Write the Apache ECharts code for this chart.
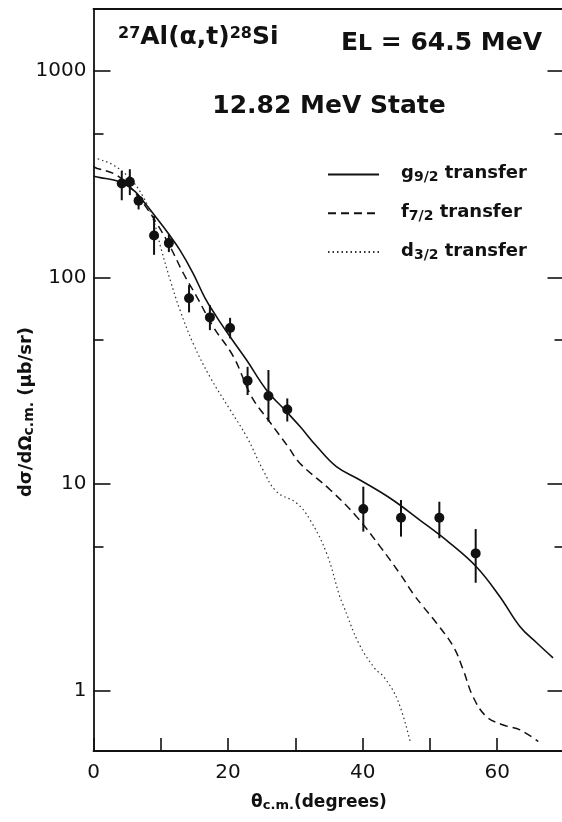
<!DOCTYPE html>
<html><head><meta charset="utf-8">
<script src="https://cdn.jsdelivr.net/npm/echarts@6/dist/echarts.min.js"></script>
<style>html,body{margin:0;padding:0;background:#fff}#c{width:562px;height:822px}</style>
</head><body><div id="c"></div>
<script>
// ---- data ----
const angles  = [4.2, 5.4, 6.7, 9.0, 11.2, 14.2, 17.3, 20.3, 22.9, 26.0, 28.8, 40.1, 45.7, 51.4, 56.8];
const sigma   = [286, 291, 236, 160, 147, 79.4, 64.2, 57, 31.7, 26.7, 23.0, 7.58, 6.88, 6.88, 4.62];
const errLow  = [237, 251, 214, 129, 133, 67.9, 55.7, 50.8, 27.0, 20.1, 20.1, 5.89, 5.57, 5.47, 3.33];
const errHigh = [329, 335, 246, 199, 162, 92, 73.7, 63.9, 37.0, 35.7, 26.0, 9.72, 8.38, 8.22, 6.06];

const g92Angle = [0, 1, 3, 4.4, 6.2, 7.65, 9.4, 11.1, 12.85, 14.8, 16.6, 18.3, 20.3, 22.75, 25.7, 28.7, 30.7, 33.2, 36.1, 39.6, 44.1, 48.5, 53.0, 56.9, 60.4, 63.4, 65.9, 68.3];
const g92Value = [310, 305, 297, 286, 261, 229, 194, 164, 136, 105, 79.4, 64.6, 51.7, 39.9, 28.6, 22.4, 19.0, 15.2, 12.15, 10.47, 8.54, 6.70, 5.17, 3.98, 2.85, 2.04, 1.70, 1.44];

const f72Angle = [0, 0.56, 2.94, 4.93, 7.4, 9.4, 11.4, 13.35, 15.35, 17.8, 20.8, 23.5, 26.2, 28.9, 30.7, 35.2, 39.1, 42.6, 45.5, 47.5, 49.0, 51.0, 53.5, 54.95, 56.4, 58.4, 60.9, 63.4, 66.1];
const f72Value = [345, 338, 320, 286, 229, 183, 141, 105, 80.8, 57.8, 41.4, 26.5, 20.0, 15.2, 12.6, 9.37, 6.96, 4.98, 3.70, 2.95, 2.55, 2.12, 1.63, 1.26, 0.935, 0.748, 0.682, 0.645, 0.567];

const d32Angle = [0, 0.48, 2.94, 5.42, 7.4, 8.9, 10.1, 11.4, 12.85, 14.8, 17.3, 20.3, 22.75, 25.2, 27.2, 30.2, 32.2, 34.65, 36.6, 37.0, 39.4, 41.8, 43.1, 45.2, 47.1];
const d32Value = [385, 378, 351, 302, 246, 190, 136, 97.3, 69.7, 48.1, 33.1, 22.9, 17.0, 11.7, 9.2, 8.08, 6.70, 4.62, 2.85, 2.65, 1.70, 1.28, 1.17, 0.90, 0.56];

const xTickLabels = [0, 20, 40, 60];
const yMajorTicks = [1, 10, 100, 1000];
const yMinorTicks = [5, 50, 500];
const seriesNames = ['g9/2 transfer', 'f7/2 transfer', 'd3/2 transfer'];

// ---- chart ----
const FONT = 'DejaVu Sans';
const INK = '#111';
const zip = (a, b) => a.map((v, i) => [v, b[i]]);

const gridRect = { left: 93.5, width: 471, top: 9, bottom: 71, outerBoundsMode: 'none', containLabel: false };
const logY = { type: 'log', logBase: 10, min: 0.51, max: 2000 };

const chart = echarts.init(document.getElementById('c'), null, { renderer: 'canvas' });

const legendRich = {
  n:  { fontFamily: FONT, fontWeight: 'bold', fontSize: 18, color: INK, lineHeight: 20, verticalAlign: 'top' },
  n0: { fontFamily: FONT, fontWeight: 'bold', fontSize: 18, color: INK, lineHeight: 20, verticalAlign: 'top', padding: [0, 0, 0, 17] },
  s:  { fontFamily: FONT, fontWeight: 'bold', fontSize: 14, color: INK, lineHeight: 14, verticalAlign: 'bottom' }
};

chart.setOption({
  animation: false,
  backgroundColor: '#fff',
  grid: [
    Object.assign({}, gridRect),
    Object.assign({}, gridRect)
  ],
  xAxis: [
    { gridIndex: 0, type: 'value', min: 0, max: 70, interval: 10, position: 'bottom',
      axisLine: { show: true, lineStyle: { color: INK, width: 1.8 } },
      axisTick: { show: true, inside: true, length: 13, lineStyle: { color: INK, width: 1.6 } },
      axisLabel: { customValues: xTickLabels, margin: 12, fontFamily: FONT, fontSize: 20, color: INK },
      splitLine: { show: false } },
    { gridIndex: 1, type: 'value', min: 0, max: 70, position: 'top',
      axisLine: { show: true, lineStyle: { color: INK, width: 1.8 } },
      axisTick: { show: false }, axisLabel: { show: false }, splitLine: { show: false } }
  ],
  yAxis: [
    Object.assign({ gridIndex: 0, position: 'left',
      axisLine: { show: true, lineStyle: { color: INK, width: 1.8 } },
      axisTick: { show: true, inside: true, length: 17, customValues: yMajorTicks, lineStyle: { color: INK, width: 1.6 } },
      axisLabel: { customValues: yMajorTicks, margin: 7, fontFamily: FONT, fontSize: 20, color: INK,
        formatter: function (v) { return String(Math.round(v)); } },
      splitLine: { show: false }, minorTick: { show: false } }, logY),
    Object.assign({ gridIndex: 0, position: 'right',
      axisLine: { show: true, lineStyle: { color: INK, width: 1.8 } },
      axisTick: { show: true, inside: true, length: 17, customValues: yMajorTicks, lineStyle: { color: INK, width: 1.6 } },
      axisLabel: { show: false }, splitLine: { show: false } }, logY),
    Object.assign({ gridIndex: 1, position: 'left',
      axisLine: { show: false },
      axisTick: { show: true, inside: true, length: 10, customValues: yMinorTicks, lineStyle: { color: INK, width: 1.6 } },
      axisLabel: { show: false }, splitLine: { show: false } }, logY),
    Object.assign({ gridIndex: 1, position: 'right',
      axisLine: { show: false },
      axisTick: { show: true, inside: true, length: 10, customValues: yMinorTicks, lineStyle: { color: INK, width: 1.6 } },
      axisLabel: { show: false }, splitLine: { show: false } }, logY)
  ],
  legend: {
    orient: 'vertical', left: 327, top: 164, padding: 0,
    itemWidth: 51, itemHeight: 26, itemGap: 18,
    selectedMode: false,
    itemStyle: { color: 'rgba(0,0,0,0)', borderWidth: 0 },
    data: seriesNames,
    formatter: function (name) {
      const parts = name.split(' ');
      const head = parts[0];
      return '{n0|' + head.charAt(0) + '}{s|' + head.slice(1) + '}{n| ' + parts.slice(1).join(' ') + '}';
    },
    textStyle: { rich: legendRich, fontFamily: FONT, fontSize: 18, color: INK }
  },
  graphic: [
    { type: 'text', x: 118, y: 26, z: 10,
      style: { text: '{sup|27}{n|Al(α,t)}{sup|28}{n|Si}', fill: INK,
        textAlign: 'left', textVerticalAlign: 'top', align: 'left', verticalAlign: 'top',
        rich: {
          n:   { fontFamily: FONT, fontWeight: 'bold', fontSize: 25, lineHeight: 24, verticalAlign: 'bottom', fill: INK },
          sup: { fontFamily: FONT, fontWeight: 'bold', fontSize: 16, lineHeight: 22, verticalAlign: 'top', fill: INK }
        } } },
    { type: 'text', x: 542, y: 31, z: 10,
      style: { text: '{n|E}{sub|L}{n| = 64.5 MeV}', fill: INK,
        textAlign: 'right', textVerticalAlign: 'top', align: 'right', verticalAlign: 'top',
        rich: {
          n:   { fontFamily: FONT, fontWeight: 'bold', fontSize: 25, lineHeight: 24, verticalAlign: 'top', fill: INK },
          sub: { fontFamily: FONT, fontWeight: 'bold', fontSize: 22, lineHeight: 22, verticalAlign: 'bottom', fill: INK },
          pad: { lineHeight: 33 }
        } } },
    { type: 'text', x: 329, y: 106, z: 10,
      style: { text: '12.82 MeV State', fill: INK, fontFamily: FONT, fontWeight: 'bold', fontSize: 25,
        textAlign: 'center', textVerticalAlign: 'middle', align: 'center', verticalAlign: 'middle' } },
    { type: 'text', x: 319, y: 803, z: 10,
      style: { text: '{n|θ}{s|c.m.}{n|(degrees)}', fill: INK,
        textAlign: 'center', textVerticalAlign: 'middle', align: 'center', verticalAlign: 'middle',
        rich: {
          n: { fontFamily: FONT, fontWeight: 'bold', fontSize: 17, lineHeight: 18, verticalAlign: 'top', fill: INK },
          s: { fontFamily: FONT, fontWeight: 'bold', fontSize: 13, lineHeight: 13, verticalAlign: 'bottom', fill: INK }
        } } },
    { type: 'text', x: 27, y: 412, rotation: Math.PI / 2, z: 10,
      style: { text: '{n|dσ/dΩ}{s|c.m.}{n| (μb/sr)}', fill: INK,
        textAlign: 'center', textVerticalAlign: 'middle', align: 'center', verticalAlign: 'middle',
        rich: {
          n: { fontFamily: FONT, fontWeight: 'bold', fontSize: 18, lineHeight: 19, verticalAlign: 'top', fill: INK },
          s: { fontFamily: FONT, fontWeight: 'bold', fontSize: 14, lineHeight: 14, verticalAlign: 'bottom', fill: INK }
        } } }
  ],
  series: [
    { name: seriesNames[0], type: 'line', xAxisIndex: 0, yAxisIndex: 0, data: zip(g92Angle, g92Value),
      symbol: 'none', smooth: 0.4, color: INK, itemStyle: { color: INK },
      lineStyle: { color: INK, width: 1.6, type: 'solid' }, z: 2 },
    { name: seriesNames[1], type: 'line', xAxisIndex: 0, yAxisIndex: 0, data: zip(f72Angle, f72Value),
      symbol: 'none', smooth: 0.4, color: INK, itemStyle: { color: INK },
      lineStyle: { color: INK, width: 1.5, type: [8, 5] }, z: 2 },
    { name: seriesNames[2], type: 'line', xAxisIndex: 0, yAxisIndex: 0, data: zip(d32Angle, d32Value),
      symbol: 'none', smooth: 0.4, color: '#333', itemStyle: { color: '#333' },
      lineStyle: { color: '#333', width: 1.2, type: [1.5, 3] }, z: 2 },
    { name: 'error', type: 'custom', xAxisIndex: 0, yAxisIndex: 0,
      data: angles.map((a, i) => [a, errLow[i], errHigh[i]]),
      encode: { x: 0, y: [1, 2] },
      renderItem: function (params, api) {
        const lo = api.coord([api.value(0), api.value(1)]);
        const hi = api.coord([api.value(0), api.value(2)]);
        return { type: 'line', shape: { x1: lo[0], y1: lo[1], x2: hi[0], y2: hi[1] },
          style: { stroke: INK, lineWidth: 2 } };
      }, z: 3 },
    { name: 'data', type: 'scatter', xAxisIndex: 0, yAxisIndex: 0, data: zip(angles, sigma),
      symbol: 'circle', symbolSize: 10, itemStyle: { color: INK, opacity: 1 }, z: 4 }
  ]
});
</script>
</body></html>
